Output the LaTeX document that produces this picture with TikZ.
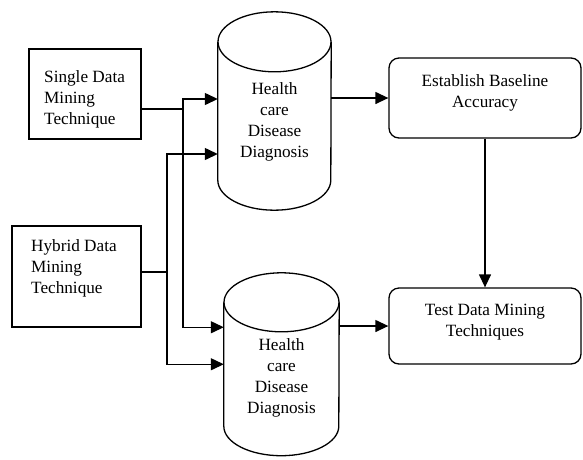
\documentclass[tikz,border=0pt]{standalone}
\usepackage{fontspec}
\setmainfont{Liberation Serif}
\usetikzlibrary{arrows.meta}

\tikzset{
  wire/.style={line width=1.3pt},
  arr/.style={wire, -{Triangle[length=13pt,width=12pt]}},
  sqbox/.style={draw, line width=1.3pt, inner sep=0pt, minimum width=#1},
  rbox/.style={draw, line width=1.3pt, rounded corners=10pt, inner sep=0pt,
               minimum width=192pt},
  body/.style={inner sep=0pt, minimum width=#1},
  txt/.style={font=\fontsize{17.2}{21}\selectfont, inner sep=0pt},
}

\begin{document}
\begin{tikzpicture}[x=1pt, y=-1pt]
  \useasboundingbox (0,0) rectangle (583,459);

  % input boxes
  \node[sqbox=112pt, minimum height=90pt] (single) at (85,94) {};
  \node[txt, anchor=west, align=left] (singletxt) at (44,99.5)
    {Single Data\\Mining\\Technique};
  \node[sqbox=129pt, minimum height=101pt] (hybrid) at (76.5,276.5) {};
  \node[txt, anchor=west, align=left] (hybridtxt) at (31,268)
    {Hybrid Data\\Mining\\Technique};

  % database cylinders: node = body between the two ellipse centres
  \node[body=113pt, minimum height=138pt] (db1) at (274.5,111) {};
  \draw[wire] (db1.north) ellipse [x radius=56.5pt, y radius=30pt];
  \draw[wire] (db1.north west) -- (db1.south west)
    arc[start angle=180, end angle=360, x radius=56.5pt, y radius=30pt]
    -- (db1.north east);
  \node[txt, align=center] (db1txt) at (274.5,121.5)
    {Health\\care\\Disease\\Diagnosis};

  \node[body=115pt, minimum height=123.5pt] (db2) at (281.5,364.25) {};
  \draw[wire] (db2.north) ellipse [x radius=57.5pt, y radius=29.5pt];
  \draw[wire] (db2.north west) -- (db2.south west)
    arc[start angle=180, end angle=360, x radius=57.5pt, y radius=29.5pt]
    -- (db2.north east);
  \node[txt, align=center] (db2txt) at (281.5,378)
    {Health\\care\\Disease\\Diagnosis};

  % process boxes
  \node[rbox, minimum height=80pt] (est) at (485,98) {};
  \node[txt, align=center] (esttxt) at (485,92.5)
    {Establish Baseline\\Accuracy};
  \node[rbox, minimum height=76pt] (test) at (485,326) {};
  \node[txt, align=center] (testtxt) at (485,322.5)
    {Test Data Mining\\Techniques};

  % branching connectors from the inputs
  \coordinate (j1) at (183,109);
  \coordinate (j2) at (167,272);
  \draw[wire] ([yshift=-15pt]single.east) -- (j1);
  \draw[arr] (j1) |- ([yshift=12pt]db1.west);
  \draw[arr] (j1) |- ([yshift=37pt]db2.west);
  \draw[wire] ([yshift=4.5pt]hybrid.east) -- (j2);
  \draw[arr] (j2) |- ([yshift=-43pt]db1.west);
  \draw[arr] (j2) |- (db2.west);

  % flow to the process boxes
  \draw[arr] (db1.east |- est.west) -- (est.west);
  \draw[arr] (db2.east |- test.west) -- (test.west);
  \draw[arr] (est.south) -- (test.north);
\end{tikzpicture}
\end{document}
